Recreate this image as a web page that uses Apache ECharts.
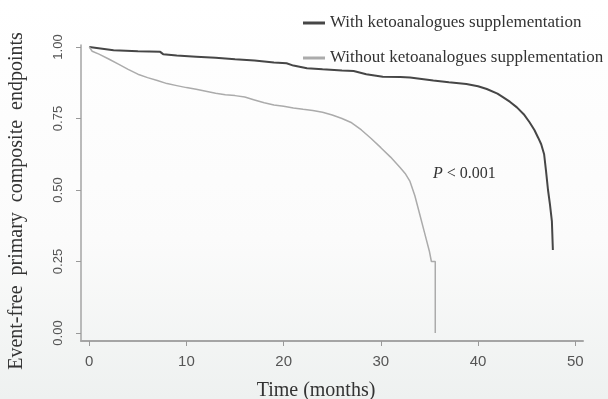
<!DOCTYPE html>
<html>
<head>
<meta charset="utf-8">
<script src="https://cdn.jsdelivr.net/npm/echarts@6/dist/echarts.min.js"></script>
<style>html,body{margin:0;padding:0;}#c{width:608px;height:399px;}</style>
</head>
<body>
<div id="c"></div>
<script>
const seriesNames = ['With ketoanalogues supplementation', 'Without ketoanalogues supplementation'];
const xTitle = 'Time (months)';
const yTitle = 'Event-free  primary  composite  endpoints';
const xTicks = [0, 10, 20, 30, 40, 50];
const yTicks = [0, 0.25, 0.5, 0.75, 1];
// [time (months), survival]
const withKeto = [[0,1.0],[2.5,0.989],[5,0.985],[7.3,0.983],[7.6,0.975],[9,0.97],[11,0.966],[13,0.962],[15,0.957],[17,0.953],[19,0.946],[20.3,0.943],[21,0.935],[22.4,0.926],[24,0.922],[26,0.918],[27.2,0.916],[28.5,0.905],[30.2,0.896],[32,0.895],[33,0.893],[35.4,0.883],[37,0.877],[38.8,0.871],[40,0.863],[40.9,0.853],[42,0.837],[42.6,0.824],[43.3,0.808],[44,0.789],[44.7,0.765],[45.3,0.737],[45.8,0.71],[46.2,0.682],[46.5,0.66],[46.8,0.625],[47,0.565],[47.2,0.5],[47.4,0.45],[47.5,0.42],[47.6,0.39],[47.7,0.39],[47.7,0.29]];
const withoutKeto = [[0,1.0],[0.3,0.985],[1,0.975],[2,0.958],[3,0.94],[4,0.922],[5,0.905],[6,0.893],[7,0.883],[8,0.872],[9,0.865],[10,0.858],[11,0.852],[12,0.845],[13,0.838],[14,0.833],[15,0.83],[16,0.825],[17,0.815],[18,0.805],[19,0.797],[20,0.793],[21,0.787],[22,0.782],[23,0.778],[24,0.772],[25,0.762],[26,0.75],[27,0.735],[28,0.71],[29,0.68],[30,0.648],[31,0.615],[32,0.578],[32.5,0.558],[33,0.53],[33.5,0.48],[34,0.415],[34.5,0.35],[35,0.285],[35.2,0.25],[35.6,0.25],[35.6,0.0]];

const chart = echarts.init(document.getElementById('c'), null, {renderer: 'canvas'});
const serif = '"Liberation Serif", "Times New Roman", serif';
const sans = '"Liberation Sans", Arial, sans-serif';
chart.setOption({
  animation: false,
  backgroundColor: new echarts.graphic.LinearGradient(0, 0, 0, 1, [
    {offset: 0, color: '#ffffff'}, {offset: 0.6, color: '#fbfbfb'}, {offset: 1, color: '#eef1f0'}
  ]),
  grid: {left: 81, right: 25, top: 45, bottom: 58, containLabel: false},
  legend: {
    orient: 'vertical', left: 298, top: 8, itemWidth: 22, itemHeight: 3, itemGap: 15, icon: 'rect',
    textStyle: {fontFamily: serif, fontSize: 17, color: '#333', lineHeight: 20},
    data: seriesNames
  },
  xAxis: {
    type: 'value', min: -0.85, max: 50.8,
    axisLine: {show: true, onZero: false, lineStyle: {color: '#a5a5a5', width: 2}},
    axisTick: {show: true, length: 5, customValues: xTicks, lineStyle: {color: '#999'}},
    axisLabel: {customValues: xTicks, margin: 13, fontFamily: sans, fontSize: 15, color: '#555'},
    splitLine: {show: false}
  },
  yAxis: {
    type: 'value', min: -0.028, max: 1.007,
    axisLine: {show: true, onZero: false, lineStyle: {color: '#a5a5a5', width: 1.5}},
    axisTick: {show: true, length: 5, customValues: yTicks, lineStyle: {color: '#999'}},
    axisLabel: {customValues: yTicks, rotate: 90, margin: 16, fontFamily: sans, fontSize: 13, color: '#555',
      formatter: v => v.toFixed(2)},
    splitLine: {show: false}
  },
  graphic: [{
    type: 'text', left: 433, top: 166,
    style: {
      text: '{i|P} < 0.001',
      rich: {i: {fontStyle: 'italic', fontFamily: serif, fontSize: 16, fill: '#333'}},
      font: '16px ' + serif, fill: '#333'
    }
  }, {
    type: 'text', x: 316, y: 391,
    style: {text: xTitle, font: '20px ' + serif, fill: '#333', align: 'center', verticalAlign: 'middle'}
  }, {
    type: 'text', x: 17, y: 201, rotation: Math.PI / 2,
    style: {text: yTitle, font: '20px ' + serif, fill: '#333', align: 'center', verticalAlign: 'middle'}
  }],
  series: [
    {name: seriesNames[0], type: 'line', data: withKeto, symbol: 'none', color: '#464646',
      lineStyle: {width: 2, color: '#464646'}},
    {name: seriesNames[1], type: 'line', data: withoutKeto, symbol: 'none', color: '#ababab',
      lineStyle: {width: 1.5, color: '#ababab'}}
  ]
});
</script>
</body>
</html>
